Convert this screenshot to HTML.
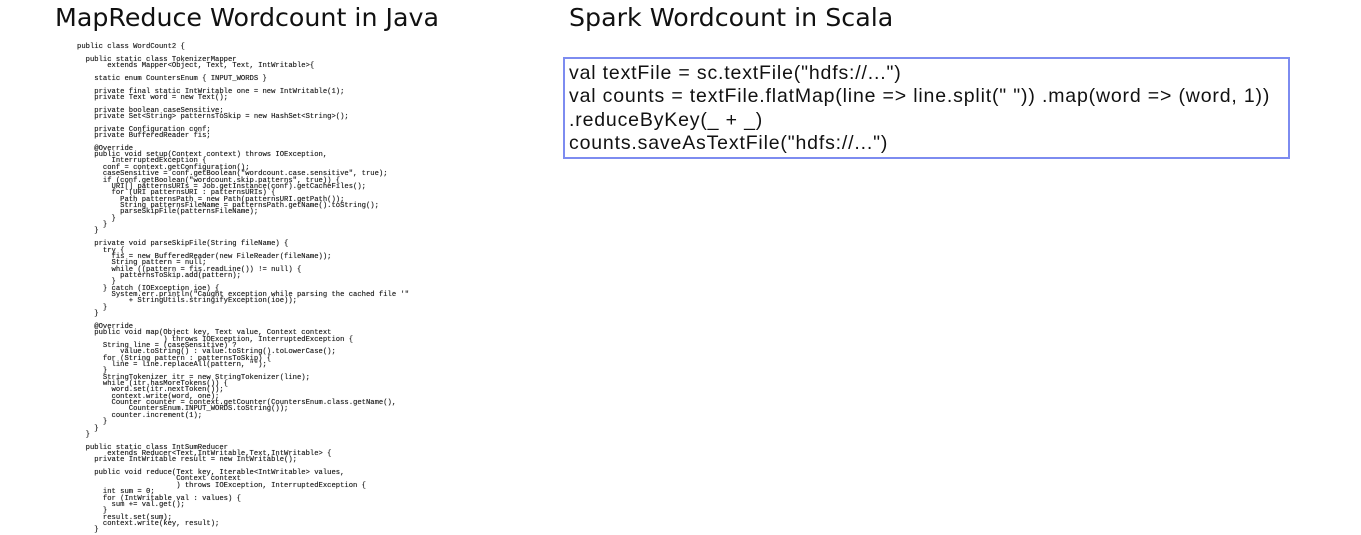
<!DOCTYPE html>
<html><head><meta charset="utf-8"><style>
html,body{margin:0;padding:0;background:#fff;width:1361px;height:535px;overflow:hidden;position:relative}
.t{position:absolute;font-family:"DejaVu Sans",sans-serif;font-size:25.3px;color:#111;white-space:nowrap;line-height:1}
pre{position:absolute;left:77px;top:44px;margin:0;font-family:"Liberation Mono",monospace;font-size:7.2px;line-height:6.36px;color:#222;text-shadow:0 0 0.4px #444}
.box{position:absolute;left:563px;top:57px;width:727px;height:102px;border:2px solid #7d8cf0;box-sizing:border-box}
.code{position:absolute;left:569px;top:62px;font-family:"Liberation Sans",sans-serif;font-size:19.5px;line-height:23.4px;color:#111;white-space:pre;letter-spacing:0.83px}
</style></head><body>
<div class="t" style="left:55px;top:5px">MapReduce Wordcount in Java</div>
<div class="t" style="left:569px;top:5px">Spark Wordcount in Scala</div>
<pre>public class WordCount2 {

  public static class TokenizerMapper
       extends Mapper&lt;Object, Text, Text, IntWritable&gt;{

    static enum CountersEnum { INPUT_WORDS }

    private final static IntWritable one = new IntWritable(1);
    private Text word = new Text();

    private boolean caseSensitive;
    private Set&lt;String&gt; patternsToSkip = new HashSet&lt;String&gt;();

    private Configuration conf;
    private BufferedReader fis;

    @Override
    public void setup(Context context) throws IOException,
        InterruptedException {
      conf = context.getConfiguration();
      caseSensitive = conf.getBoolean("wordcount.case.sensitive", true);
      if (conf.getBoolean("wordcount.skip.patterns", true)) {
        URI[] patternsURIs = Job.getInstance(conf).getCacheFiles();
        for (URI patternsURI : patternsURIs) {
          Path patternsPath = new Path(patternsURI.getPath());
          String patternsFileName = patternsPath.getName().toString();
          parseSkipFile(patternsFileName);
        }
      }
    }

    private void parseSkipFile(String fileName) {
      try {
        fis = new BufferedReader(new FileReader(fileName));
        String pattern = null;
        while ((pattern = fis.readLine()) != null) {
          patternsToSkip.add(pattern);
        }
      } catch (IOException ioe) {
        System.err.println("Caught exception while parsing the cached file '"
            + StringUtils.stringifyException(ioe));
      }
    }

    @Override
    public void map(Object key, Text value, Context context
                    ) throws IOException, InterruptedException {
      String line = (caseSensitive) ?
          value.toString() : value.toString().toLowerCase();
      for (String pattern : patternsToSkip) {
        line = line.replaceAll(pattern, "");
      }
      StringTokenizer itr = new StringTokenizer(line);
      while (itr.hasMoreTokens()) {
        word.set(itr.nextToken());
        context.write(word, one);
        Counter counter = context.getCounter(CountersEnum.class.getName(),
            CountersEnum.INPUT_WORDS.toString());
        counter.increment(1);
      }
    }
  }

  public static class IntSumReducer
       extends Reducer&lt;Text,IntWritable,Text,IntWritable&gt; {
    private IntWritable result = new IntWritable();

    public void reduce(Text key, Iterable&lt;IntWritable&gt; values,
                       Context context
                       ) throws IOException, InterruptedException {
      int sum = 0;
      for (IntWritable val : values) {
        sum += val.get();
      }
      result.set(sum);
      context.write(key, result);
    }</pre>
<div class="box"></div>
<div class="code">val textFile = sc.textFile("hdfs://...")
val counts = textFile.flatMap(line =&gt; line.split(" ")) .map(word =&gt; (word, 1))
.reduceByKey(_ + _)
counts.saveAsTextFile("hdfs://...")</div>
</body></html>
